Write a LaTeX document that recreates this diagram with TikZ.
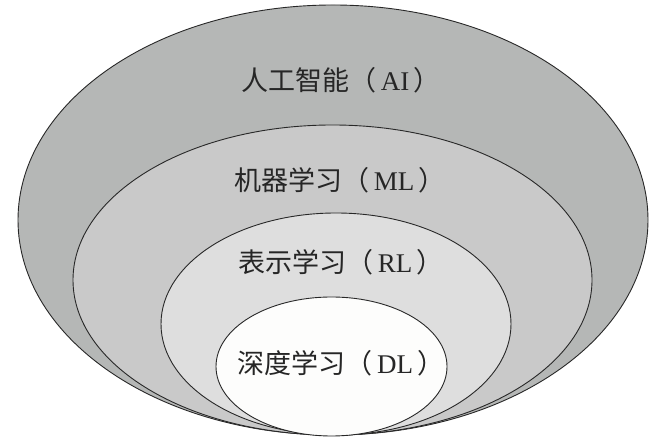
\documentclass[tikz,border=0pt]{standalone}
\usepackage{fontspec}
\setmainfont{Liberation Serif}
\newfontfamily\cjk{Noto Sans CJK SC}
\definecolor{aifill}{RGB}{181,183,182}
\definecolor{mlfill}{RGB}{201,201,201}
\definecolor{rlfill}{RGB}{222,222,222}
\definecolor{dlfill}{RGB}{253,253,252}
\definecolor{edge}{RGB}{40,40,40}
\tikzset{
  ring/.style={draw=edge, line width=0.9pt},
  lbl/.style={inner sep=0pt, font=\fontsize{27}{30}\selectfont, text=black!85}
}
\begin{document}
\begin{tikzpicture}[x=1pt,y=1pt]
\useasboundingbox (0,0) rectangle (658,446);
\fill[white] (0,0) rectangle (658,446);
\filldraw[ring, fill=aifill] (333,226) ellipse [x radius=315, y radius=215];
\filldraw[ring, fill=mlfill] (332.5,166) ellipse [x radius=259.5, y radius=155];
\filldraw[ring, fill=rlfill] (336,122) ellipse [x radius=175, y radius=111];
\filldraw[ring, fill=dlfill] (331.5,79.5) ellipse [x radius=115.5, y radius=69.5];
\node[lbl] (ai) at (341,366) {{\cjk 人工智能（}\,AI\,{\cjk ）}};
\node[lbl] (ml) at (340,266) {{\cjk 机器学习（}\,ML\,{\cjk ）}};
\node[lbl] (rl) at (341,184) {{\cjk 表示学习（}\,RL\,{\cjk ）}};
\node[lbl] (dl) at (341,83) {{\cjk 深度学习（}\,DL\,{\cjk ）}};
\end{tikzpicture}
\end{document}
